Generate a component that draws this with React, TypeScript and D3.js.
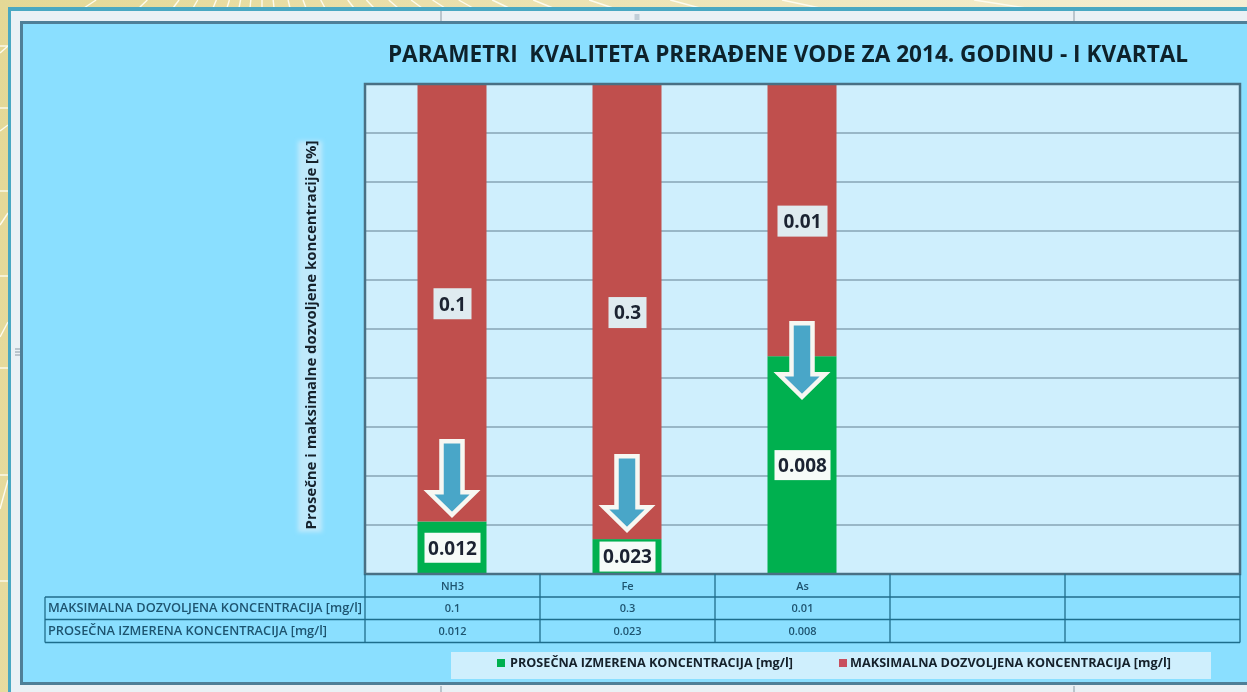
import { useEffect, useRef } from "react";
import * as d3 from "d3";

const categories = ["NH3", "Fe", "As", "", ""];
const maxAllowed = [0.1, 0.3, 0.01];
const measured = [0.012, 0.023, 0.008];
const arrowTips = [0.1208, 0.0902, 0.3616]; // share of the axis where each arrow points
const seriesMeasured = "PROSEČNA IZMERENA KONCENTRACIJA [mg/l]";
const seriesMax = "MAKSIMALNA DOZVOLJENA KONCENTRACIJA [mg/l]";
const titleText = "PARAMETRI  KVALITETA PRERAĐENE VODE ZA 2014. GODINU - I KVARTAL";
const yTitle = "Prosečne i maksimalne dozvoljene koncentracije [%]";
const yTicks = d3.range(0, 1.01, 0.1);

// wallpaper pattern showing around the slide
const topRays = [84, 139, 173, 193, 213, 227, 239, 250, 262, 274, 290, 306, 325, 354, 374, 398, 422, 445, 473, 509, 553, 613, 700, 820, 1026];
const leftRows = [46, 108, 191, 276, 368, 475, 581];
const leftStubs = [[53, 46], [131, 125], [225, 213], [337, 322], [509, 480]];
const frameHandles = [441, 1074];

const FONT = "'Open Sans', 'Noto Sans', sans-serif";
const W = 1247;
const H = 692;

const App = () => {
  const svgRef = useRef<SVGSVGElement>(null);

  useEffect(() => {
    const svg = d3.select(svgRef.current);
    svg.selectAll("*").remove();

    const margin = { top: 84, right: 7, bottom: 118, left: 365 };

    const x = d3
      .scaleBand()
      .domain(d3.range(categories.length).map(String))
      .range([margin.left, W - margin.right]);
    const barWidth = 69;

    const y = d3
      .scaleLinear()
      .domain([0, 1])
      .range([H - margin.bottom, margin.top]);

    const rows = measured.map((m, i) => ({ i: String(i), measured: m, max: maxAllowed[i] }));
    const stacked = d3
      .stack<any>()
      .keys(["measured", "max"])
      .offset(d3.stackOffsetExpand)(rows);

    const defs = svg.append("defs");
    const soft = defs.append("filter").attr("id", "soft").attr("filterUnits", "userSpaceOnUse")
      .attr("x", 0).attr("y", 0).attr("width", W).attr("height", H);
    soft.append("feGaussianBlur").attr("stdDeviation", 0.7);
    const glow = defs.append("filter").attr("id", "glow").attr("x", "-20%").attr("y", "-20%").attr("width", "140%").attr("height", "140%");
    glow.append("feGaussianBlur").attr("stdDeviation", 2);
    const paper = defs.append("linearGradient").attr("id", "paper").attr("x1", 0).attr("x2", 1).attr("y1", 0).attr("y2", 0.15);
    paper.append("stop").attr("offset", 0).attr("stop-color", "#e4d896");
    paper.append("stop").attr("offset", 1).attr("stop-color", "#f6f0d6");

    const root = svg.append("g").attr("filter", "url(#soft)");

    // page behind the chart
    root.append("rect").attr("width", W).attr("height", H).attr("fill", "url(#paper)");
    const rays = root.append("g").attr("stroke", "#fdfbee").attr("stroke-width", 1.4);
    topRays.forEach((tx) => {
      const slope = (tx - 262) / 103;
      rays.append("line").attr("x1", tx - slope * 7).attr("y1", 0).attr("x2", tx).attr("y2", 8);
    });
    leftRows.forEach((ly) => {
      rays.append("line").attr("x1", 0).attr("y1", ly).attr("x2", 8).attr("y2", ly);
    });
    leftStubs.forEach(([a, b]) => {
      rays.append("line").attr("x1", 0).attr("y1", a).attr("x2", 8).attr("y2", b);
    });

    root.append("rect").attr("x", 8).attr("y", 7).attr("width", W - 8).attr("height", H).attr("fill", "#4aa8c2");
    root.append("rect").attr("x", 11).attr("y", 11).attr("width", W - 11).attr("height", H).attr("fill", "#eaf1f5");

    // selection handles of the pasted chart
    const handles = root.append("g").attr("stroke", "#8a9aa5").attr("stroke-width", 1);
    frameHandles.forEach((hx) => {
      handles.append("line").attr("x1", hx).attr("x2", hx).attr("y1", 11).attr("y2", 21);
      handles.append("line").attr("x1", hx).attr("x2", hx).attr("y1", 686).attr("y2", 692);
    });
    handles.append("line").attr("x1", 637).attr("x2", 637).attr("y1", 14).attr("y2", 20).attr("stroke-width", 5).attr("stroke", "#c0ced8");
    d3.range(3).forEach((k) => {
      handles.append("line").attr("x1", 15).attr("x2", 23).attr("y1", 349 + k * 3).attr("y2", 349 + k * 3);
    });

    // chart panel
    root
      .append("rect")
      .attr("x", 21.5)
      .attr("y", 22.5)
      .attr("width", W)
      .attr("height", 661)
      .attr("fill", "#8adfff")
      .attr("stroke", "#4f7f97")
      .attr("stroke-width", 3);

    root
      .append("text")
      .attr("x", 788)
      .attr("y", 62)
      .attr("text-anchor", "middle")
      .attr("font-family", FONT)
      .attr("font-weight", 700)
      .attr("font-size", 22.6)
      .attr("fill", "#10202c")
      .style("white-space", "pre")
      .text(titleText);

    // plot area
    root
      .append("rect")
      .attr("x", margin.left)
      .attr("y", margin.top)
      .attr("width", W - margin.right - margin.left)
      .attr("height", y(0) - y(1))
      .attr("fill", "#cfeffd");

    root
      .append("g")
      .attr("stroke", "#87a5b4")
      .attr("stroke-width", 1.6)
      .selectAll("line")
      .data(yTicks.slice(1, -1))
      .join("line")
      .attr("x1", margin.left)
      .attr("x2", W - margin.right)
      .attr("y1", (d) => y(d))
      .attr("y2", (d) => y(d));

    // stacked bars
    const colors = ["#00b04f", "#c0504d"];
    root
      .append("g")
      .selectAll("g")
      .data(stacked)
      .join("g")
      .attr("fill", (_, i) => colors[i])
      .selectAll("rect")
      .data((d) => d)
      .join("rect")
      .attr("x", (d: any) => x(d.data.i)! + (x.bandwidth() - barWidth) / 2 - 0.5)
      .attr("width", barWidth)
      .attr("y", (d) => y(d[1]))
      .attr("height", (d) => y(d[0]) - y(d[1]));

    // plot frame
    root
      .append("rect")
      .attr("x", margin.left)
      .attr("y", margin.top)
      .attr("width", W - margin.right - margin.left)
      .attr("height", y(0) - y(1))
      .attr("fill", "none")
      .attr("stroke", "#4a6f84")
      .attr("stroke-width", 2.5);

    // arrows
    const arrow = "M-10.5,-73.6 H10.5 V-22.5 H23 L0,0 L-23,-22.5 H-10.5 Z";
    root
      .append("g")
      .selectAll("path")
      .data(arrowTips)
      .join("path")
      .attr("transform", (d, i) => `translate(${x(String(i))! + x.bandwidth() / 2 - 0.5},${y(d)})`)
      .attr("d", arrow)
      .attr("fill", "#4aa6c8")
      .attr("stroke", "#f7f7f2")
      .attr("stroke-width", 4.5)
      .attr("stroke-linejoin", "miter");

    // value labels in the bars
    const labels = root.append("g");
    const putLabel = (cx: number, cy: number, text: string, w: number, h: number, fill: string) => {
      labels
        .append("rect")
        .attr("x", cx - w / 2)
        .attr("y", cy - h / 2)
        .attr("width", w)
        .attr("height", h)
        .attr("fill", fill);
      labels
        .append("text")
        .attr("x", cx)
        .attr("y", cy)
        .attr("dy", "0.36em")
        .attr("text-anchor", "middle")
        .attr("font-family", FONT)
        .attr("font-weight", 700)
        .attr("font-size", 19)
        .attr("fill", "#1a2430")
        .text(text);
    };
    stacked[1].forEach((d: any, i) => {
      const cx = x(String(i))! + x.bandwidth() / 2;
      putLabel(cx, (y(d[0]) + y(d[1])) / 2 + 1, String(maxAllowed[i]), String(maxAllowed[i]).length > 3 ? 50 : 38, 31, "#dfebf0");
    });
    stacked[0].forEach((d: any, i) => {
      const cx = x(String(i))! + x.bandwidth() / 2;
      putLabel(cx, (y(d[0]) + y(d[1])) / 2, String(measured[i]), 56, 30, "#f6fbf8");
    });

    // y axis title
    root
      .append("rect")
      .attr("x", 298)
      .attr("y", 141)
      .attr("width", 24)
      .attr("height", 391)
      .attr("fill", "#bfe9fb")
      .attr("filter", "url(#glow)");
    root
      .append("text")
      .attr("transform", "translate(316,335) rotate(-90)")
      .attr("text-anchor", "middle")
      .attr("font-family", FONT)
      .attr("font-weight", 700)
      .attr("font-size", 14.9)
      .attr("fill", "#14202c")
      .text(yTitle);

    // data table
    const rowTop = y(0);
    const rowH = [23, 22.5, 23];
    const tableLeft = 45;
    const tableBottom = rowTop + d3.sum(rowH);
    const grid = root.append("g").attr("stroke", "#1f6d8c").attr("stroke-width", 1.3);
    let ry = rowTop;
    rowH.forEach((h) => {
      ry += h;
      grid.append("line").attr("x1", tableLeft).attr("x2", W - margin.right).attr("y1", ry).attr("y2", ry);
    });
    categories.forEach((_, i) => {
      const bx = x(String(i))!;
      grid.append("line").attr("x1", bx).attr("x2", bx).attr("y1", rowTop).attr("y2", tableBottom);
    });
    grid.append("line").attr("x1", W - margin.right).attr("x2", W - margin.right).attr("y1", rowTop).attr("y2", tableBottom);
    grid.append("line").attr("x1", tableLeft).attr("x2", tableLeft).attr("y1", rowTop + rowH[0]).attr("y2", tableBottom);

    const tableText = root
      .append("g")
      .attr("font-family", FONT)
      .attr("font-weight", 600)
      .attr("fill", "#1f5470")
      .attr("font-size", 11);
    const row1 = rowTop + rowH[0] / 2 + 1;
    const row2 = rowTop + rowH[0] + rowH[1] / 2;
    const row3 = rowTop + rowH[0] + rowH[1] + rowH[2] / 2;
    categories.forEach((c, i) => {
      const cx = x(String(i))! + x.bandwidth() / 2;
      tableText.append("text").attr("x", cx).attr("y", row1).attr("dy", "0.35em").attr("text-anchor", "middle").text(c);
      if (i < maxAllowed.length) {
        tableText.append("text").attr("x", cx).attr("y", row2).attr("dy", "0.35em").attr("text-anchor", "middle").text(maxAllowed[i]);
        tableText.append("text").attr("x", cx).attr("y", row3).attr("dy", "0.35em").attr("text-anchor", "middle").text(measured[i]);
      }
    });
    tableText.append("text").attr("x", 48).attr("y", row2).attr("dy", "0.35em").attr("font-size", 12).attr("textLength", 314).attr("lengthAdjust", "spacingAndGlyphs").text(seriesMax);
    tableText.append("text").attr("x", 48).attr("y", row3).attr("dy", "0.35em").attr("font-size", 12).attr("textLength", 279).attr("lengthAdjust", "spacingAndGlyphs").text(seriesMeasured);

    // legend
    root
      .append("rect")
      .attr("x", 451)
      .attr("y", 652)
      .attr("width", 760)
      .attr("height", 27)
      .attr("fill", "#cfeffd");
    const legend = [
      { label: seriesMeasured, color: "#00b04f", sx: 497, tx: 510, tw: 283 },
      { label: seriesMax, color: "#c8505f", sx: 839, tx: 850, tw: 321 },
    ];
    legend.forEach((l) => {
      root.append("rect").attr("x", l.sx).attr("y", 659).attr("width", 8).attr("height", 8).attr("fill", l.color);
      root
        .append("text")
        .attr("x", l.tx)
        .attr("y", 663)
        .attr("dy", "0.35em")
        .attr("font-family", FONT)
        .attr("font-weight", 700)
        .attr("font-size", 11.5)
        .attr("fill", "#14202c")
        .attr("textLength", l.tw)
        .attr("lengthAdjust", "spacingAndGlyphs")
        .text(l.label);
    });
  }, []);

  return <svg ref={svgRef} width={W} height={H} style={{ position: "fixed", left: 0, top: 0, display: "block" }} />;
};

export default App;
